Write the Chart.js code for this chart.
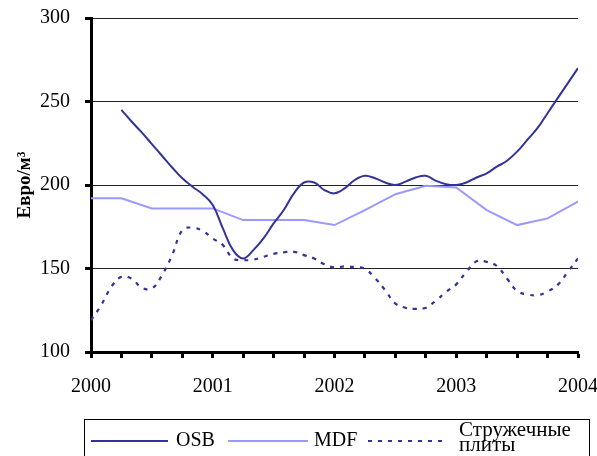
<!DOCTYPE html>
<html><head><meta charset="utf-8">
<script src="https://cdn.jsdelivr.net/npm/chart.js@4"></script>
<style>html,body{margin:0;padding:0;background:#fff}canvas{display:block}</style>
</head><body>
<canvas id="c" width="597" height="456"></canvas>
<script>
// month index from Jan 2000 (0) to Jan 2004 (48)
const months = [0,1,2,3,4,5,6,7,8,9,10,11,12,13,14,15,16,17,18,19,20,21,22,23,24,25,26,27,28,29,30,31,32,33,34,35,36,37,38,39,40,41,42,43,44,45,46,47,48];
const yearLabels = ['2000','2001','2002','2003','2004'];
const seriesNames = ['OSB','MDF','Стружечные плиты'];
const osb = [null,null,null,245,238,231.5,224.5,217.5,210.5,204,199,194.5,188,174,161,156,161,168,177,185,195,201.5,201.5,197,195,198,203,205.5,204,201.5,200,202,204.5,205.5,202.5,200.5,200,201.5,204.5,207,211,214.5,220,227,234,243,252,261,270];
const mdfMonths = [0,3,6,9,12,15,18,21,24,27,30,33,36,39,42,45,48];
const mdf = [192,192,186,186,186,179,179,179,176,185,194.5,199.5,198.5,185,176,180,190];
const particle = [119,128,139,145,144,138.5,138,146,158,173,174.5,172.5,168,164,156,155,155.3,157,158.8,159.7,160,158,156,152.5,150.6,151.3,150.8,149.8,144.2,137,129,126.5,125.8,126.5,130.8,136,140.5,148,154.3,154,151.5,144,136.5,134.5,134,136.2,140.2,148,156];

const FONT = 'Liberation Serif, Times New Roman, serif';

const legendPlugin = {
  id: 'boxLegend',
  afterDraw(chart) {
    const ctx = chart.ctx;
    const ds = chart.data.datasets;
    ctx.save();
    ctx.strokeStyle = '#000';
    ctx.lineWidth = 1;
    ctx.strokeRect(84.5, 419.5, 505, 45);
    const y = 441;
    const items = [
      {x1: 91, x2: 168, tx: 176},
      {x1: 228, x2: 308, tx: 314},
      {x1: 368, x2: 446, tx: 459}
    ];
    items.forEach((it, i) => {
      const d = ds[i];
      ctx.beginPath();
      ctx.strokeStyle = d.borderColor;
      ctx.lineWidth = d.borderWidth;
      ctx.setLineDash(d.borderDash || []);
      ctx.moveTo(it.x1, y);
      ctx.lineTo(it.x2, y);
      ctx.stroke();
      ctx.setLineDash([]);
      ctx.fillStyle = '#000';
      ctx.font = '20px ' + FONT;
      ctx.textAlign = 'left';
      if (i < 2) {
        ctx.textBaseline = 'middle';
        ctx.fillText(d.label, it.tx, y);
      } else {
        ctx.textBaseline = 'alphabetic';
        const parts = d.label.split(' ');
        ctx.font = '21px ' + FONT;
        ctx.fillText(parts[0], it.tx, 436);
        ctx.fillText(parts[1], it.tx, 451);
      }
    });
    ctx.restore();
  }
};

new Chart(document.getElementById('c'), {
  type: 'line',
  data: {
    datasets: [
      {label: seriesNames[0], data: months.map((m, i) => ({x: m, y: osb[i]})), borderColor: '#333399', borderWidth: 2, tension: 0.4, pointRadius: 0, fill: false},
      {label: seriesNames[1], data: mdfMonths.map((m, i) => ({x: m, y: mdf[i]})), borderColor: '#9999ff', borderWidth: 2, tension: 0, pointRadius: 0, fill: false},
      {label: seriesNames[2], data: months.map((m, i) => ({x: m, y: particle[i]})), borderColor: '#333399', borderWidth: 2.2, borderDash: [4, 6], tension: 0.4, pointRadius: 0, fill: false}
    ]
  },
  options: {
    responsive: false,
    animation: false,
    layout: {padding: {top: 18, right: 19, left: 0, bottom: 0}},
    plugins: {legend: {display: false}, tooltip: {enabled: false}},
    scales: {
      x: {
        type: 'linear', min: 0, max: 48,
        ticks: {stepSize: 3, autoSkip: false, maxRotation: 0, color: '#000', font: {family: FONT, size: 20}, padding: 17,
          callback: (v) => (v % 12 === 0 ? yearLabels[v / 12] : '')},
        grid: {drawOnChartArea: false, drawTicks: true, tickLength: 6, tickColor: '#000', tickWidth: 3},
        border: {display: true, color: '#000', width: 3},
        afterFit: (s) => { s.height = 104; s.paddingLeft = 0; s.paddingRight = 0; }
      },
      y: {
        min: 100, max: 300,
        ticks: {stepSize: 50, color: '#000', font: {family: FONT, size: 20}, padding: 15},
        grid: {color: '#222', lineWidth: 1, tickLength: 6, tickColor: '#000', tickWidth: 3},
        border: {display: true, color: '#000', width: 3},
        title: {display: true, text: 'Евро/м³', color: '#000', font: {family: FONT, size: 19, weight: 'bold'}, padding: {top: 14, bottom: 0}},
        afterFit: (s) => { s.width = 91; s.paddingTop = 0; s.paddingBottom = 0; }
      }
    }
  },
  plugins: [legendPlugin]
});
</script>
</body></html>
